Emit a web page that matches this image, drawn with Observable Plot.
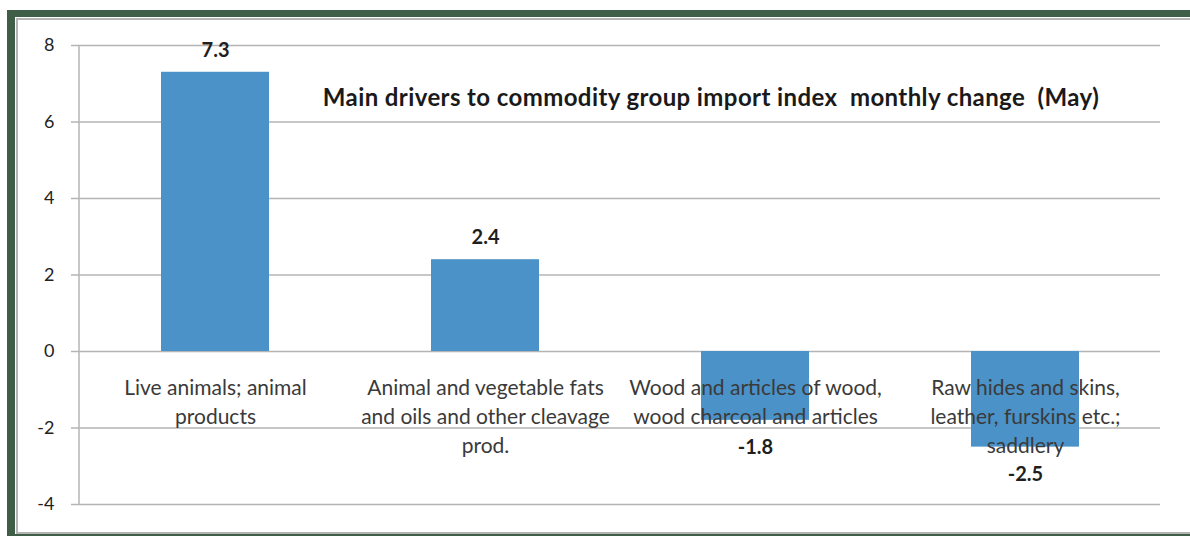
<!DOCTYPE html>
<html>
<head>
<meta charset="utf-8">
<script src="https://cdn.jsdelivr.net/npm/d3@7"></script>
<script src="https://cdn.jsdelivr.net/npm/@observablehq/plot@0.6"></script>
<style>
  html, body { margin: 0; padding: 0; background: #ffffff; }
  #wrap { position: relative; width: 1190px; height: 536px; overflow: hidden; background: #fff; font-family: Lato, "Noto Sans", sans-serif; }
  #chart { position: absolute; left: 0; top: 0; }
  .band { position: absolute; background: #3f5e48; }
  .blank { position: absolute; background: #ffffff; }
  .inner { position: absolute; border-top: 2px solid #b4b4b4; border-left: 2px solid #b4b4b4; border-bottom: 2px solid #b4b4b4; }
  #title { position: absolute; left: 0; width: 1422px; top: 82px; text-align: center; font-weight: bold; font-size: 24px; letter-spacing: 0.4px; color: #1a1a1a; white-space: pre; font-family: Lato, "Noto Sans", sans-serif; }
</style>
</head>
<body>
<div id="wrap">
  <div id="chart"></div>
  <div class="blank" style="left:0px; top:0px; width:7px; height:536px;"></div>
  <div class="blank" style="left:0px; top:0px; width:1190px; height:10px;"></div>
  <div class="band" style="left:7px; top:10px; width:1183px; height:7px;"></div>
  <div class="band" style="left:7px; top:10px; width:8px; height:526px;"></div>
  <div class="band" style="left:7px; top:534px; width:1183px; height:2px;"></div>
  <div class="inner" style="left:16px; top:18px; width:1180px; height:512px;"></div>
  <div id="title"></div>
</div>
<script>
const title = "Main drivers to commodity group import index  monthly change  (May)";
const categories = [
  "Live animals; animal\nproducts",
  "Animal and vegetable fats\nand oils and other cleavage\nprod.",
  "Wood and articles of wood,\nwood charcoal and articles",
  "Raw hides and skins,\nleather, furskins etc.;\nsaddlery"
];
const values = [7.3, 2.4, -1.8, -2.5];
const valueLabels = ["7.3", "2.4", "-1.8", "-2.5"];
const yTicks = [-4, -2, 0, 2, 4, 6, 8];

const data = categories.map((c, i) => ({cat: c, value: values[i], label: valueLabels[i]}));

document.getElementById("title").textContent = title;

const gridColor = "#b4b4b4";
const font = 'Lato, "Noto Sans", sans-serif';

// custom mark: y axis line and category boundary ticks, using the plot's own scales
function axisDecor(index, scales, values_, dims) {
  const g = d3.create("svg:g");
  const x0 = dims.marginLeft;
  g.append("line")
    .attr("x1", x0).attr("x2", x0)
    .attr("y1", dims.marginTop).attr("y2", dims.height - dims.marginBottom)
    .attr("stroke", gridColor).attr("stroke-width", 1.5);
  const bw = scales.x.bandwidth;
  const step = scales.x.step || bw / 0.4;
  const y0 = scales.y(0);
  categories.forEach((c, i) => {
    const xb = scales.x(c) + bw / 2 + step / 2;
    g.append("line")
      .attr("x1", xb).attr("x2", xb)
      .attr("y1", y0).attr("y2", y0 + 6)
      .attr("stroke", gridColor).attr("stroke-width", 1.5);
  });
  return g.node();
}

const chart = Plot.plot({
  width: 1190,
  height: 536,
  marginLeft: 79,
  marginRight: 30,
  marginTop: 45,
  marginBottom: 32,
  style: {background: "transparent", fontFamily: font, fontSize: "16px", color: "#222", overflow: "hidden"},
  x: {domain: categories, paddingInner: 0.6, paddingOuter: 0.3, axis: null},
  y: {domain: [-4, 8], ticks: yTicks, label: null, axis: null},
  marks: [
    Plot.gridY(yTicks, {stroke: gridColor, strokeOpacity: 1, strokeWidth: 1.5}),
    Plot.axisY(yTicks, {tickSize: 8, tickPadding: 17, stroke: gridColor, strokeWidth: 1.5, fill: "#222", fontSize: 18, label: null, tickFormat: d => String(d)}),
    Plot.barY(data, {x: "cat", y: "value", fill: "#4a92c8"}),
    axisDecor,
    Plot.text(data, {x: "cat", y: 0, text: "cat", lineAnchor: "top", dy: 23, lineHeight: 1.38, fontSize: 21, letterSpacing: 0.7, fill: "#3a3a3a"}),
    Plot.text(data.filter(d => d.value >= 0), {x: "cat", y: "value", text: "label", dy: -22, fontWeight: "bold", fontSize: 20, letterSpacing: 0.5, fill: "#1f1f1f"}),
    Plot.text(data.filter(d => d.value < 0), {x: "cat", y: "value", text: "label", dy: 27, fontWeight: "bold", fontSize: 20, letterSpacing: 0.5, fill: "#1f1f1f"})
  ]
});
document.getElementById("chart").appendChild(chart);
</script>
</body>
</html>
